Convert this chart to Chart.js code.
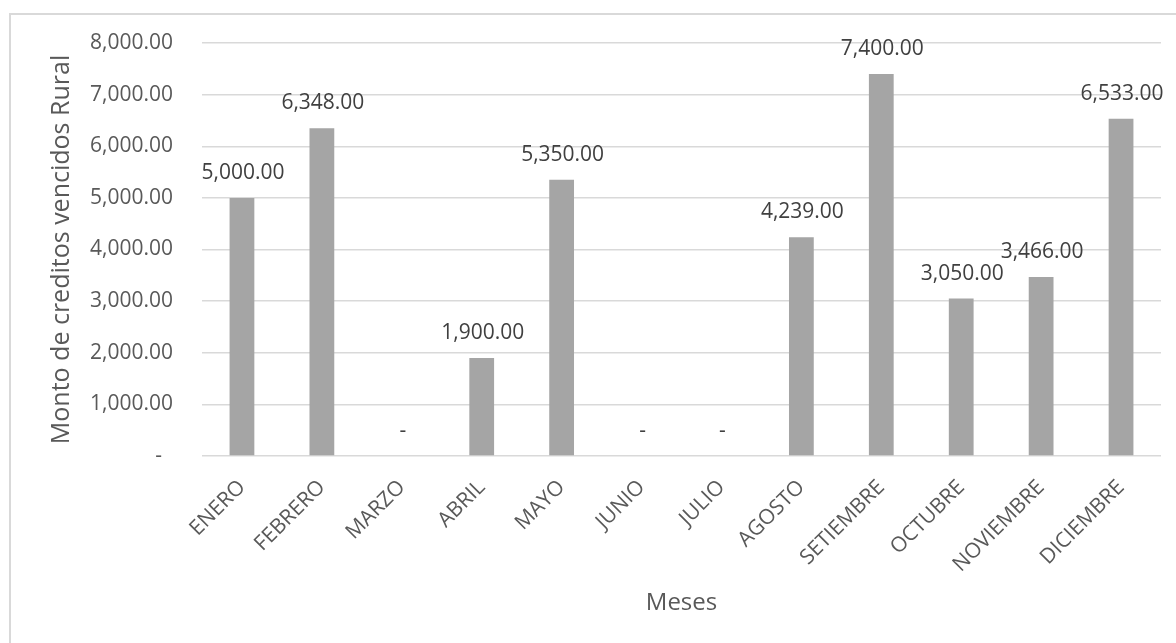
<!DOCTYPE html>
<html>
<head>
<meta charset="utf-8">
<script src="https://cdn.jsdelivr.net/npm/chart.js@4"></script>
<style>
    html, body { margin: 0; padding: 0; background: #fff; }
    #wrap { position: relative; width: 1176px; height: 643px; overflow: hidden; }
    #marco { position: absolute; left: 9px; top: 13px; width: 1300px; height: 800px;
             border-left: 2px solid #d9d9d9; border-top: 2px solid #d9d9d9; }
    canvas { position: absolute; left: 0; top: 0; }
</style>
</head>
<body>
<div id="wrap">
    <div id="marco"></div>
    <canvas id="grafico" width="1176" height="643"></canvas>
</div>
<script>
// Datos
const meses = ['ENERO', 'FEBRERO', 'MARZO', 'ABRIL', 'MAYO', 'JUNIO', 'JULIO',
               'AGOSTO', 'SETIEMBRE', 'OCTUBRE', 'NOVIEMBRE', 'DICIEMBRE'];
const montos = [5000, 6348, 0, 1900, 5350, 0, 0, 4239, 7400, 3050, 3466, 6533];
const yMin = 0;
const yMax = 8000;
const yPaso = 1000;

const fuente = '"Open Sans", "DejaVu Sans", sans-serif';
const gris = '#595959';

function formato(v) {
    if (v === 0) return '-';
    return v.toLocaleString('en-US', { minimumFractionDigits: 2, maximumFractionDigits: 2 });
}

// Etiquetas de datos encima de cada barra
const etiquetas = {
    id: 'etiquetas',
    afterDatasetsDraw(chart) {
        const ctx = chart.ctx;
        const meta = chart.getDatasetMeta(0);
        ctx.save();
        ctx.font = '21px ' + fuente;
        ctx.fillStyle = '#404040';
        ctx.textAlign = 'center';
        ctx.textBaseline = 'middle';
        meta.data.forEach(function(barra, i) {
            const v = chart.data.datasets[0].data[i];
            ctx.fillText(formato(v), barra.x + 1, barra.y - 25);
        });
        ctx.restore();
    }
};

new Chart(document.getElementById('grafico'), {
    type: 'bar',
    data: {
        labels: meses,
        datasets: [{
            label: 'Monto',
            data: montos,
            backgroundColor: '#a5a5a5',
            borderWidth: 0,
            categoryPercentage: 1,
            barPercentage: 0.31
        }]
    },
    options: {
        responsive: false,
        animation: false,
        layout: { padding: { top: 43, right: 15, left: 0, bottom: 0 } },
        plugins: {
            legend: { display: false },
            tooltip: { enabled: false }
        },
        scales: {
            x: {
                afterFit(scale) { scale.height = 187; },
                grid: { display: false, drawTicks: false },
                border: { display: false },
                ticks: {
                    color: gris,
                    font: { family: fuente, size: 21 },
                    minRotation: 45,
                    maxRotation: 45,
                    padding: 19
                },
                title: {
                    display: true,
                    text: 'Meses',
                    color: gris,
                    font: { family: fuente, size: 24 },
                    padding: { top: 0, bottom: 25 }
                }
            },
            y: {
                min: yMin,
                max: yMax,
                afterFit(scale) { scale.width = 202; },
                grid: { color: '#d9d9d9', lineWidth: 1.5, drawTicks: false },
                border: { display: false },
                ticks: {
                    stepSize: yPaso,
                    color: gris,
                    font: { family: fuente, size: 21 },
                    padding: 29,
                    callback: function(v) { return v === 0 ? '-  ' : formato(v); }
                },
                title: {
                    display: true,
                    text: 'Monto de creditos vencidos Rural',
                    color: gris,
                    font: { family: fuente, size: 25 },
                    padding: { top: 47, bottom: 0 }
                }
            }
        }
    },
    plugins: [etiquetas]
});
</script>
</body>
</html>
